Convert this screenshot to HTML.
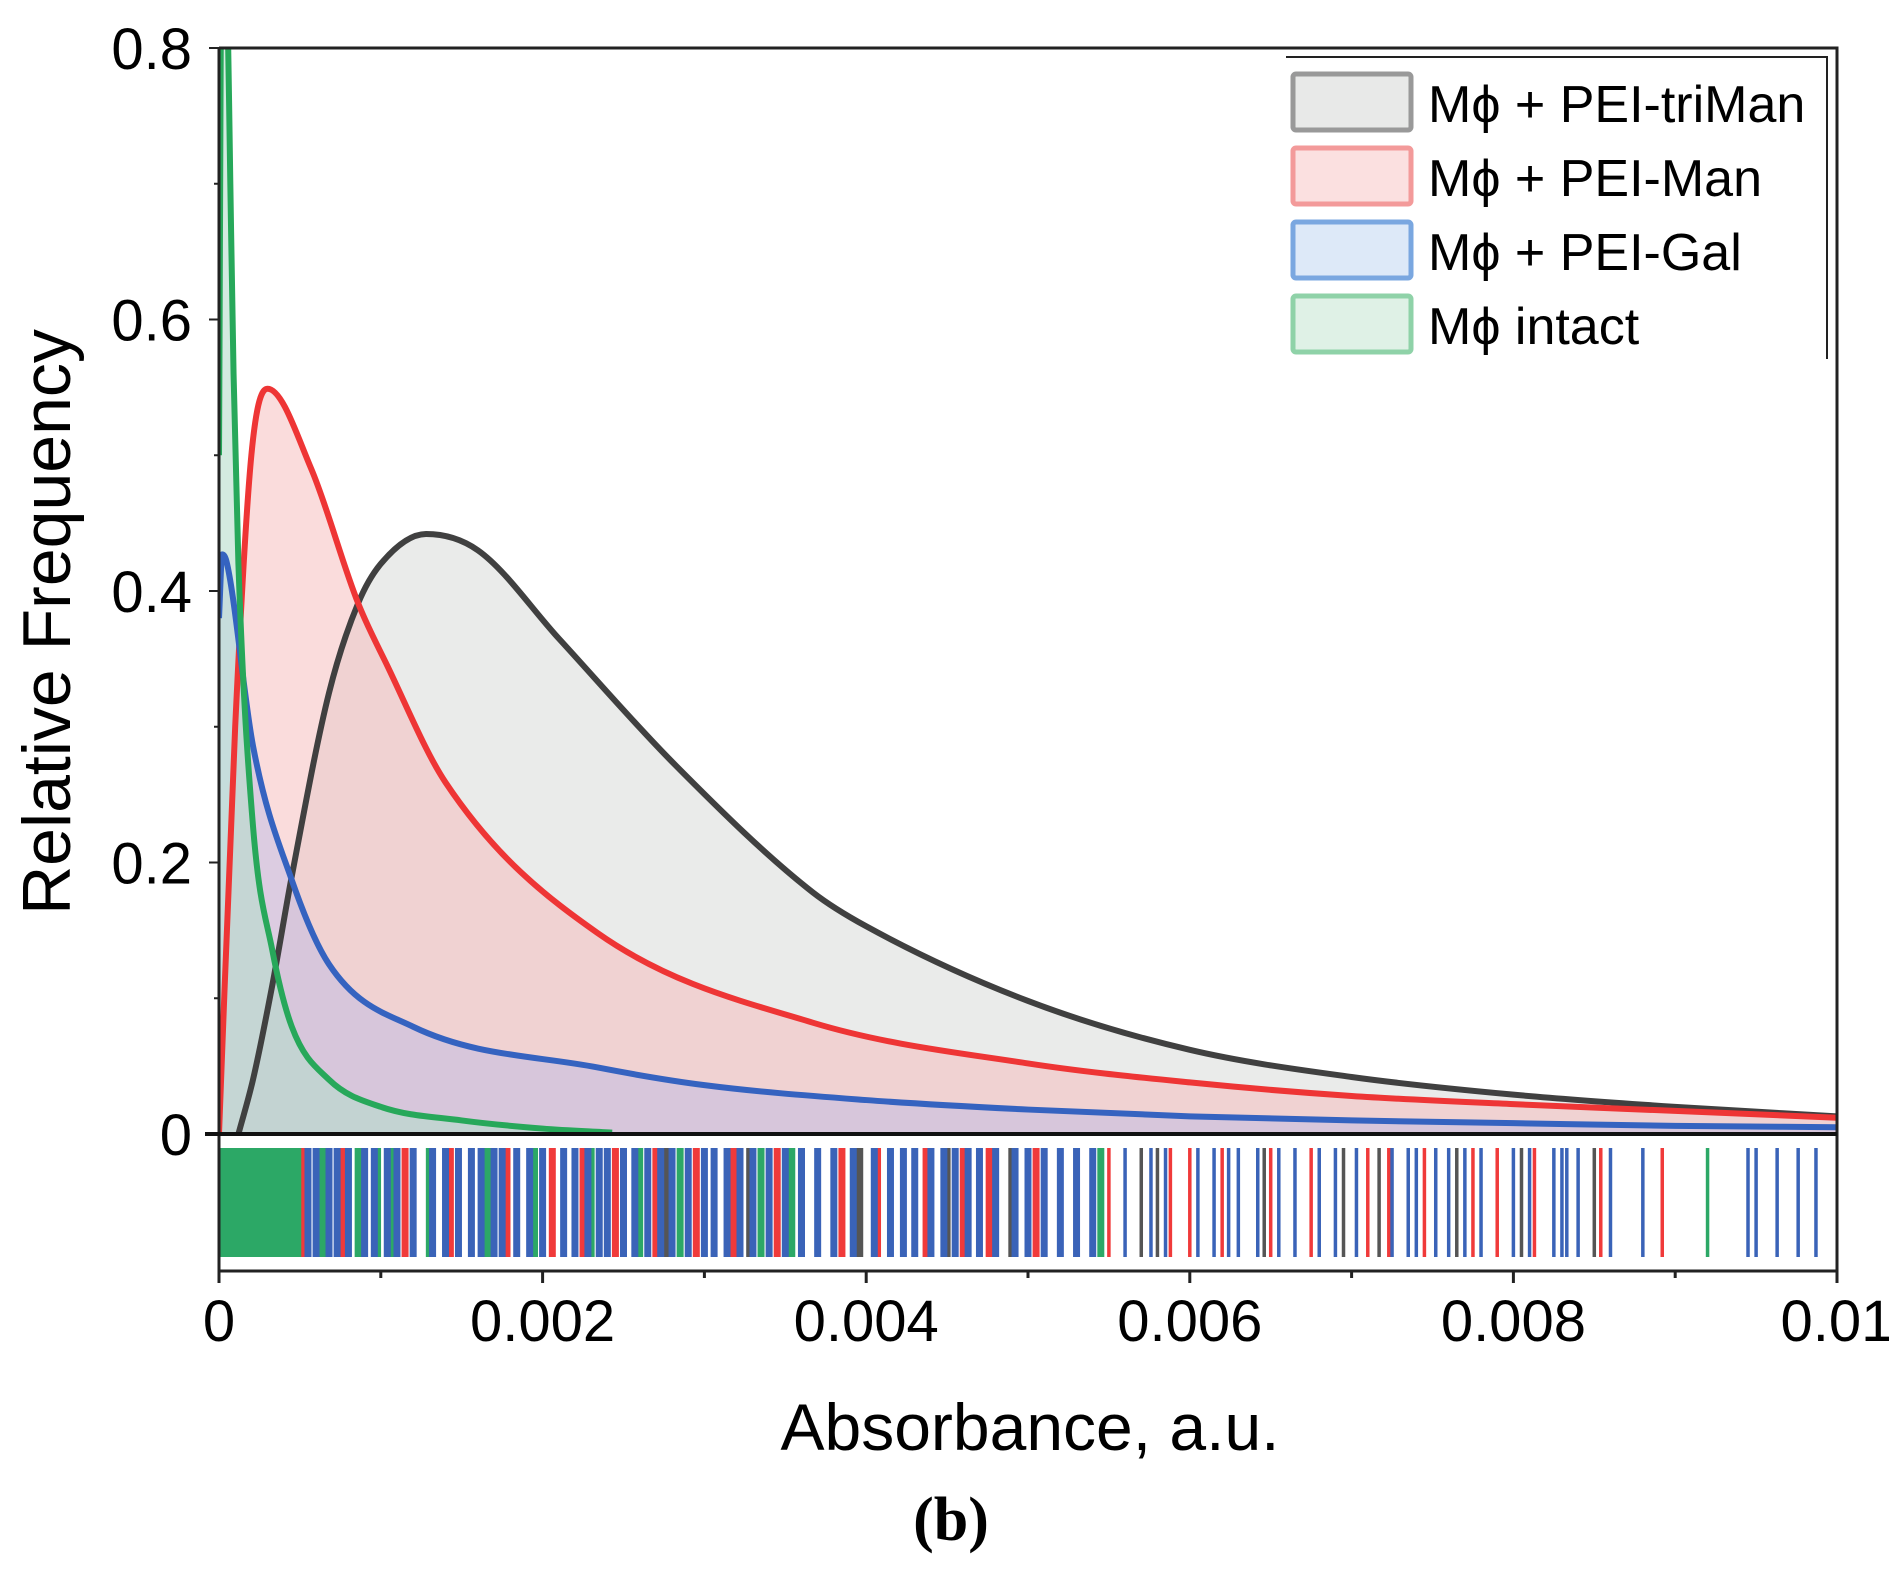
<!DOCTYPE html>
<html><head><meta charset="utf-8"><style>
html,body{margin:0;padding:0;background:#fff}
svg{display:block}
text{font-family:"Liberation Sans",sans-serif}
</style></head><body>
<svg id="c" width="1889" height="1573" viewBox="0 0 1889 1573" xmlns="http://www.w3.org/2000/svg">
<defs><clipPath id="pc"><rect x="219" y="48" width="1618" height="1086"/></clipPath></defs>
<g id="fills" clip-path="url(#pc)"></g><g id="lines" clip-path="url(#pc)"></g><g id="rug"></g><g id="axes"></g>
<g>
 <path d="M1286 57 H1827 V359" fill="none" stroke="#222" stroke-width="2"/>
 <g><rect x="1293" y="74" width="118" height="56" fill="#e8e9e8" stroke="#999" stroke-width="5" rx="3"/><text x="1428" y="122" font-size="52">Mϕ + PEI-triMan</text></g>
 <g><rect x="1293" y="148" width="118" height="56" fill="#fbe0e0" stroke="#f39a9a" stroke-width="5" rx="3"/><text x="1428" y="196" font-size="52">Mϕ + PEI-Man</text></g>
 <g><rect x="1293" y="222" width="118" height="56" fill="#dde9f8" stroke="#7aa7e0" stroke-width="5" rx="3"/><text x="1428" y="270" font-size="52">Mϕ + PEI-Gal</text></g>
 <g><rect x="1293" y="296" width="118" height="56" fill="#dff1e6" stroke="#8fd2a8" stroke-width="5" rx="3"/><text x="1428" y="344" font-size="52">Mϕ intact</text></g>
</g>
<text x="52" y="622" font-size="68" text-anchor="middle" transform="rotate(-90 52 622)" dominant-baseline="middle">Relative Frequency</text>
<text x="1030" y="1450" font-size="66" text-anchor="middle">Absorbance, a.u.</text>
<text x="951" y="1540" font-size="62" font-weight="bold" text-anchor="middle" style="font-family:'Liberation Serif',serif">(b)</text>
</svg>
<script>
const xTicks=[0,0.002,0.004,0.006,0.008,0.01];
const xTickLabels=["0","0.002","0.004","0.006","0.008","0.01"];
const yTicks=[0,0.2,0.4,0.6,0.8];
const yTickLabels=["0","0.2","0.4","0.6","0.8"];
const trimanX=[0.00012,0.00021,0.00033,0.00045,0.00068,0.00086,0.001,0.00128,0.0016,0.0021,0.00281,0.00367,0.004,0.005,0.006,0.007,0.008,0.009,0.01];
const trimanY=[0,0.04,0.11,0.19,0.325,0.391,0.42,0.442,0.43,0.365,0.273,0.178,0.153,0.098,0.062,0.042,0.029,0.02,0.013];
const manX=[0,0.0001,0.0002,0.0003,0.00057,0.00086,0.00104,0.0014,0.00234,0.00367,0.005,0.006,0.007,0.008,0.009,0.01];
const manY=[0,0.3,0.5,0.549,0.49,0.391,0.345,0.259,0.148,0.082,0.052,0.038,0.028,0.022,0.017,0.012];
const galX=[0,0.00002,0.00005,0.00021,0.00045,0.00068,0.0012,0.00234,0.003,0.004,0.005,0.006,0.007,0.008,0.009,0.01];
const galY=[0.38,0.427,0.42,0.286,0.187,0.125,0.079,0.049,0.036,0.025,0.018,0.013,0.01,0.008,0.006,0.005];
const intactX=[0,0.00002,0.00005,0.00007,0.00009,0.00012,0.00021,0.00033,0.00045,0.00068,0.001,0.0015,0.002,0.00243];
const intactY=[0.5,0.95,0.85,0.7,0.56,0.42,0.227,0.135,0.079,0.04,0.02,0.01,0.004,0.001];
const rugBlue=[5.5,6,6.8,7.3,8,9,9.6,10.4,11,12,13.2,14,14.8,15.6,16.2,17,17.5,18.4,19.2,20,21.3,22,22.8,23.5,24,25,25.7,26.5,27.3,28,29,30,30.6,31.4,32.2,33,34,35,36,37,38,39.2,40.5,41.5,42.3,43,44,44.8,45.5,46.3,47,48,49.2,50,51,52,53,54,56,57.6,58.5,60.5,61.5,62.4,63,64.2,65.5,66.5,68,69,70.3,72.5,73.5,74,75.2,76,77,78,80,81,82.5,83,83.3,84,86,88,94.5,95,96.3,97.6,98.7];
const rugRed=[5.3,7.7,11.5,14.3,17.8,20.6,22.5,24.5,27,29.5,31.8,34.5,38.5,40.7,43.7,46,47.6,50.5,55,58.8,60,62,65,67.5,71,72.3,74.5,77.5,79,81.3,85.4,89.2];
const rugGray=[27.6,32.8,36,39.6,45,49,57,58,64.6,69.5,71.7,76.5,80.5,85];
const rugGreen=[6.4,8.6,9.8,10.8,13,16.6,19.5,23,26,28.5,33.5,35.4,54.5,92];

const L=219,R=1837,Y0=1134,YT=48,RUGT=1148,RUGB=1257,AX=1271;
const sx=v=>L+v/0.01*(R-L);
const sy=v=>Y0-v/0.8*(Y0-YT);
const NS="http://www.w3.org/2000/svg";
function mk(tag,attrs,parent){const e=document.createElementNS(NS,tag);for(const k in attrs)e.setAttribute(k,attrs[k]);parent.appendChild(e);return e;}
const fills=document.getElementById('fills'),lines=document.getElementById('lines'),rug=document.getElementById('rug'),axes=document.getElementById('axes');
function monoPts(X,Y){
  const xs=X.map(sx),ys=Y.map(sy),n=xs.length,d=[],m=[];
  for(let i=0;i<n-1;i++)d.push((ys[i+1]-ys[i])/(xs[i+1]-xs[i]));
  m[0]=d[0];m[n-1]=d[n-2];
  for(let i=1;i<n-1;i++){m[i]=(d[i-1]*d[i]<=0)?0:(d[i-1]+d[i])/2;}
  for(let i=0;i<n-1;i++){
    if(d[i]===0){m[i]=0;m[i+1]=0;continue;}
    const a=m[i]/d[i],b=m[i+1]/d[i],s=a*a+b*b;
    if(s>9){const t=3/Math.sqrt(s);m[i]=t*a*d[i];m[i+1]=t*b*d[i];}
  }
  let p="M"+xs[0]+" "+ys[0];
  for(let i=0;i<n-1;i++){const h=(xs[i+1]-xs[i])/3;
    p+=` C${xs[i]+h} ${ys[i]+m[i]*h} ${xs[i+1]-h} ${ys[i+1]-m[i+1]*h} ${xs[i+1]} ${ys[i+1]}`;}
  return {d:p,x0:xs[0],x1:xs[n-1]};
}
const series=[
 {n:'triman',X:trimanX,Y:trimanY,fill:'#d8dad8',fo:0.55,stroke:'#404040'},
 {n:'man',X:manX,Y:manY,fill:'#f5b9b9',fo:0.5,stroke:'#ee3535'},
 {n:'gal',X:galX,Y:galY,fill:'#b8b8e6',fo:0.45,stroke:'#3563c0'},
 {n:'intact',X:intactX,Y:intactY,fill:'#b6dccb',fo:0.6,stroke:'#27a85a'}
];
series.forEach(s=>{
  const sp=monoPts(s.X,s.Y);
  const f=mk('path',{d:sp.d+` L${sp.x1} ${Y0} L${sp.x0} ${Y0} Z`,fill:s.fill,'fill-opacity':s.fo,stroke:'none'},fills);
  
  
  const l=mk('path',{d:sp.d,fill:'none',stroke:s.stroke,'stroke-width':6},lines);
  
  
});
const gb=mk('rect',{x:L,y:RUGT,width:sx(0.00052)-L,height:RUGB-RUGT,fill:'#2ca866'},rug);


[[rugGreen,'#2ca866','green'],[rugGray,'#555','gray'],[rugRed,'#f03a3a','red'],[rugBlue,'#3a63b8','blue']].forEach(([arr,c,n])=>{
  arr.forEach(v=>{
    const w=v<55?7:3.5;
    const r=mk('rect',{x:sx(v/10000)-w/2,y:RUGT,width:w,height:RUGB-RUGT,fill:c},rug);
    
    
  });
});
const fr=mk('path',{d:`M${L} ${YT} H${R} V${AX} M${L} ${YT} V${AX+12} M${L} ${AX} H${R}`,fill:'none',stroke:'#222','stroke-width':3},axes);


const zl=mk('line',{x1:205,y1:Y0,x2:R,y2:Y0,stroke:'#111','stroke-width':4},axes);


for(let i=0;i<=10;i++){
  const v=i*0.001,major=i%2===0;
  const t=mk('line',{x1:sx(v),y1:AX,x2:sx(v),y2:AX+(major?12:7),stroke:'#222','stroke-width':3},axes);
  
  
}
for(let i=1;i<=8;i++){
  const v=i*0.1;
  const t=mk('line',{x1:L,y1:sy(v),x2:L-(i%2===0?10:5),y2:sy(v),stroke:'#222','stroke-width':2},axes);
  
  
}
xTicks.forEach((v,i)=>{
  const t=mk('text',{x:sx(v),y:1341,'font-size':58,'text-anchor':'middle'},axes);
  t.textContent=xTickLabels[i];
  
  
});
yTicks.forEach((v,i)=>{
  const t=mk('text',{x:192,y:sy(v)+21,'font-size':58,'text-anchor':'end'},axes);
  t.textContent=yTickLabels[i];
  
  
});
</script>
</body></html>
